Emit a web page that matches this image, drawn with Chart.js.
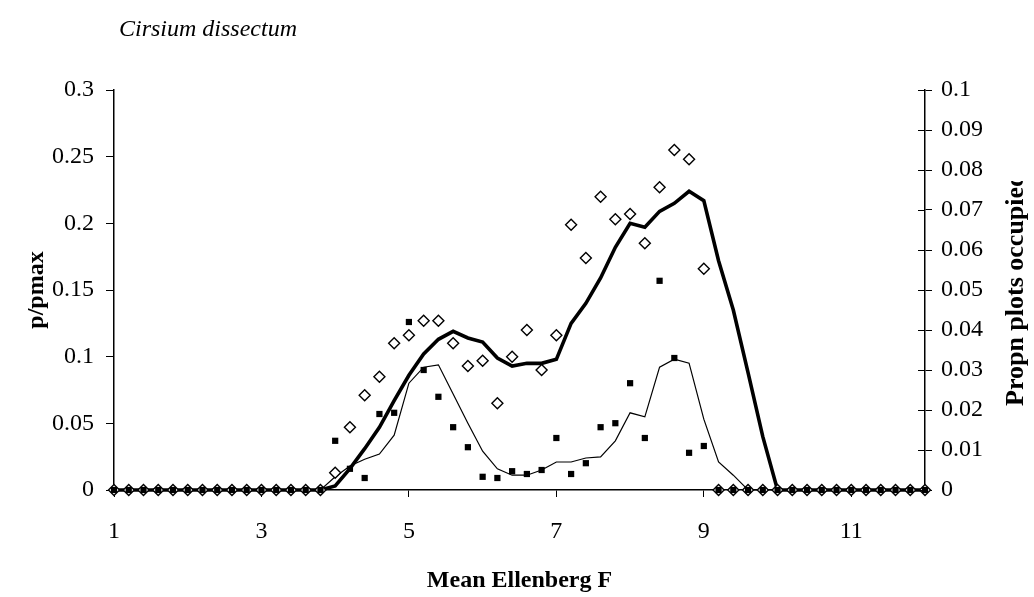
<!DOCTYPE html>
<html>
<head>
<meta charset="utf-8">
<script src="https://cdn.jsdelivr.net/npm/chart.js@4.4.1/dist/chart.umd.min.js"></script>
<style>
html,body{margin:0;padding:0;background:#fff}
</style>
</head>
<body>
<canvas id="chart" width="1034" height="597"></canvas>
<script>
// Mean Ellenberg F classes
const ellenbergF = [1, 1.2, 1.4, 1.6, 1.8, 2, 2.2, 2.4, 2.6, 2.8, 3, 3.2, 3.4, 3.6, 3.8,
  4, 4.2, 4.4, 4.6, 4.8, 5, 5.2, 5.4, 5.6, 5.8, 6, 6.2, 6.4, 6.6, 6.8, 7, 7.2, 7.4, 7.6, 7.8,
  8, 8.2, 8.4, 8.6, 8.8, 9, 9.2, 9.4, 9.6, 9.8, 10, 10.2, 10.4, 10.6, 10.8, 11, 11.2, 11.4, 11.6, 11.8, 12]

// p/pmax observed (open diamonds, left axis)
const pObserved = [0, 0, 0, 0, 0, 0, 0, 0, 0, 0, 0, 0, 0, 0, 0,
  0.013, 0.047, 0.071, 0.085, 0.110, 0.116, 0.127, 0.127, 0.110, 0.093, 0.097, 0.065, 0.100, 0.120, 0.090, 0.116, 0.199, 0.174, 0.220, 0.203,
  0.207, 0.185, 0.227, 0.255, 0.248, 0.166, 0, 0, 0, 0, 0, 0, 0, 0, 0, 0, 0, 0, 0, 0, 0]

// p/pmax smoothed (thick line, left axis)
const pSmoothed = [0, 0, 0, 0, 0, 0, 0, 0, 0, 0, 0, 0, 0, 0, 0,
  0.003, 0.016, 0.031, 0.047, 0.067, 0.086, 0.102, 0.113, 0.119, 0.114, 0.111, 0.099, 0.093, 0.095, 0.095, 0.098, 0.125, 0.140, 0.159, 0.182,
  0.200, 0.197, 0.209, 0.215, 0.224, 0.217, 0.172, 0.135, 0.088, 0.040, 0, 0, 0, 0, 0, 0, 0, 0, 0, 0, 0]

// proportion of plots occupied (filled squares, right axis)
const propnObserved = [0, 0, 0, 0, 0, 0, 0, 0, 0, 0, 0, 0, 0, 0, 0,
  0.0123, 0.0053, 0.003, 0.019, 0.0193, 0.042, 0.030, 0.0233, 0.0157, 0.0107, 0.0033, 0.003, 0.0047, 0.004, 0.005, 0.013, 0.004, 0.0067, 0.0157, 0.0167,
  0.0267, 0.013, 0.0523, 0.033, 0.0093, 0.011, 0, 0, 0, 0, 0, 0, 0, 0, 0, 0, 0, 0, 0, 0, 0]

// proportion of plots occupied smoothed (thin line, right axis)
const propnSmoothed = [0, 0, 0, 0, 0, 0, 0, 0, 0, 0, 0, 0, 0, 0, 0,
  0.0033, 0.006, 0.0077, 0.009, 0.0137, 0.0267, 0.0307, 0.0313, 0.024, 0.0167, 0.0097, 0.0053, 0.0037, 0.0037, 0.005, 0.007, 0.007, 0.008, 0.0083, 0.0123,
  0.0193, 0.0183, 0.0307, 0.0327, 0.0317, 0.0177, 0.007, 0.0037, 0, 0, 0, 0, 0, 0, 0, 0, 0, 0, 0, 0, 0]

const xTicks = [1, 3, 5, 7, 9, 11]
const yTicks = [0, 0.05, 0.1, 0.15, 0.2, 0.25, 0.3]
const y1Ticks = [0, 0.01, 0.02, 0.03, 0.04, 0.05, 0.06, 0.07, 0.08, 0.09, 0.1]

const serif = '"Liberation Serif", "Times New Roman", serif'

function pts(arr){
  return ellenbergF.map((x,i)=>({x:x, y:arr[i]}))
}

/* extra text + inner ticks on right axis */
const extras = {
  id:"extras",
  afterDraw(chart){
    const ctx = chart.ctx
    const area = chart.chartArea
    ctx.save()
    ctx.fillStyle = "#000"
    ctx.font = "italic 24px " + serif
    ctx.textBaseline = "alphabetic"
    ctx.fillText("Cirsium dissectum", 119, 36)

    // right axis ticks also point inward
    const y1 = chart.scales.y1
    ctx.strokeStyle = "#000"
    ctx.lineWidth = 1
    y1.ticks.forEach(t=>{
      const py = Math.round(y1.getPixelForValue(t.value)) + 0.5
      ctx.beginPath()
      ctx.moveTo(area.right - 7, py)
      ctx.lineTo(area.right, py)
      ctx.stroke()
    })

    // right axis title reads bottom to top, cut at the top like the original
    ctx.beginPath()
    ctx.rect(990, 181, 44, 320)
    ctx.clip()
    ctx.translate(1016, 406)
    ctx.rotate(-Math.PI/2)
    ctx.font = "bold 26px " + serif
    ctx.textAlign = "left"
    ctx.textBaseline = "middle"
    ctx.fillText("Propn plots occupied", 0, 0)
    ctx.restore()
  }
}

new Chart(document.getElementById("chart"),{
  type:"line",
  data:{
    datasets:[
      {
        label:"p/pmax",
        data:pts(pObserved),
        showLine:false,
        pointStyle:"rectRot",
        pointRadius:5.5,
        pointBackgroundColor:"#fff",
        pointBorderColor:"#000",
        pointBorderWidth:1.4,
        yAxisID:"y",
        clip:false,
        order:2
      },
      {
        label:"Propn plots occupied",
        data:pts(propnObserved),
        showLine:false,
        pointStyle:"rect",
        pointRadius:4.4,
        pointBackgroundColor:"#000",
        pointBorderColor:"#000",
        pointBorderWidth:0,
        yAxisID:"y1",
        clip:false,
        order:1
      },
      {
        label:"p/pmax smoothed",
        data:pts(pSmoothed),
        borderColor:"#000",
        borderWidth:3.6,
        pointRadius:0,
        tension:0,
        yAxisID:"y",
        clip:false,
        order:3
      },
      {
        label:"Propn smoothed",
        data:pts(propnSmoothed),
        borderColor:"#000",
        borderWidth:1.2,
        pointRadius:0,
        tension:0,
        yAxisID:"y1",
        clip:false,
        order:4
      }
    ]
  },
  options:{
    responsive:false,
    animation:false,
    events:[],
    layout:{padding:{top:90,left:0,right:0,bottom:0}},
    plugins:{legend:{display:false},tooltip:{enabled:false}},
    scales:{
      x:{
        type:"linear",
        min:1,
        max:12,
        afterBuildTicks:s=>{ s.ticks = xTicks.map(v=>({value:v})) },
        afterFit:s=>{ s.height = 107 },
        ticks:{color:"#000",font:{family:serif,size:24},padding:20,maxRotation:0,callback:v=>String(v)},
        grid:{display:true,drawOnChartArea:false,drawTicks:true,tickLength:7,color:"#000",lineWidth:1},
        border:{display:true,color:"#000",width:1.5,dash:[2,1]},
        title:{display:true,text:"Mean Ellenberg F",color:"#000",font:{family:serif,size:24,weight:"bold"},padding:{top:0,bottom:2}}
      },
      y:{
        position:"left",
        min:0,
        max:0.3,
        afterBuildTicks:s=>{ s.ticks = yTicks.map(v=>({value:v})) },
        afterFit:s=>{ s.width = 114 },
        ticks:{color:"#000",font:{family:serif,size:24},padding:12,callback:v=>String(v)},
        grid:{display:true,drawOnChartArea:false,drawTicks:true,tickLength:8,color:"#000",lineWidth:1},
        border:{display:true,color:"#000",width:1.5,dash:[2,1]},
        title:{display:true,text:"p/pmax",color:"#000",font:{family:serif,size:24,weight:"bold"},padding:{top:22,bottom:0}}
      },
      y1:{
        position:"right",
        min:0,
        max:0.1,
        afterBuildTicks:s=>{ s.ticks = y1Ticks.map(v=>({value:v})) },
        afterFit:s=>{ s.width = 109 },
        ticks:{color:"#000",font:{family:serif,size:24},padding:9,callback:v=>String(v)},
        grid:{display:true,drawOnChartArea:false,drawTicks:true,tickLength:7,color:"#000",lineWidth:1},
        border:{display:true,color:"#000",width:1.5,dash:[2,1]},
        title:{display:false}
      }
    }
  },
  plugins:[extras]
})
</script>
</body>
</html>
